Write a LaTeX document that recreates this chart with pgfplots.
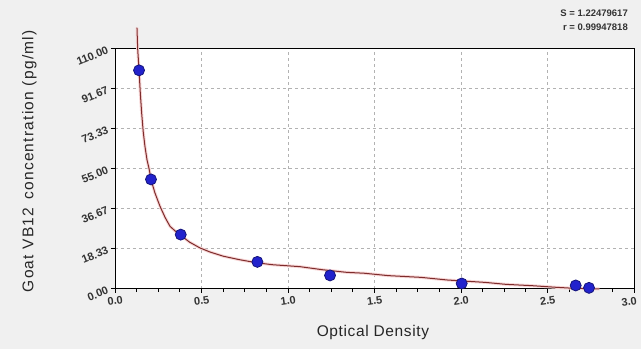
\documentclass[border=0pt]{standalone}
\usepackage{fontspec}
\setmainfont{Liberation Sans}
\usepackage{pgfplots}
\pgfplotsset{compat=1.18}
\definecolor{bgc}{HTML}{F0F0F0}
\definecolor{curvec}{HTML}{7E2C2C}
\definecolor{halo}{HTML}{F8D6D6}
\definecolor{ptc}{HTML}{2222CC}
\definecolor{ptedge}{HTML}{14147A}
\pgfplotstableread{
x y
0.127 119.6
0.131 110
0.139 100
0.146 90
0.154 80.5
0.163 72
0.173 65.2
0.185 59
0.198 54.5
0.208 50
0.23 44
0.26 37.7
0.29 32.5
0.318 28.5
0.35 26.2
0.38 24.4
0.43 21.3
0.491 18.6
0.55 16.7
0.626 14.8
0.72 13.2
0.819 11.8
0.91 10.9
1.0 10.4
1.07 10.0
1.2 8.6
1.34 7.4
1.44 7.0
1.58 5.9
1.77 5.1
1.92 3.9
2.14 2.8
2.26 1.9
2.41 1.3
2.55 0.55
2.65 0.1
2.8 -0.2
}\curvetable
\pgfplotstableread{
x y
0.139 100
0.208 50
0.38 24.7
0.823 12.2
1.243 6.0
2.004 2.3
2.663 1.4
2.74 0.3
}\pointtable
\begin{document}
\begin{tikzpicture}
\fill[bgc] (0pt,0pt) rectangle (641pt,349pt);
\useasboundingbox (0pt,0pt) rectangle (641pt,349pt);
\begin{axis}[
  at={(115pt,60.5pt)}, anchor=south west,
  scale only axis, width=519pt, height=240pt,
  xmin=0, xmax=3, ymin=0, ymax=110,
  clip=false,
  axis background/.style={fill=white},
  axis line style={line width=0.9pt, black},
  xtick={0,0.5,1,1.5,2,2.5,3},
  xticklabels={0.0,0.5,1.0,1.5,2.0,2.5,{\hspace*{-10pt}3.0}},
  ytick={0,18.3333,36.6667,55,73.3333,91.6667,110},
  yticklabels={0.00,18.33,36.67,55.00,73.33,91.67,110.00},
  minor x tick num=3, minor y tick num=4,
  tick align=outside, xtick pos=left, ytick pos=left,
  major tick length=4pt, minor tick length=3.5pt,
  every tick/.style={black, line width=0.8pt},
  grid=major,
  major grid style={gray!60, line width=0.7pt, dash pattern=on 3pt off 3pt},
  xticklabel style={font=\fontsize{11}{12}\selectfont\bfseries, text=black!80, rotate=8, yshift=-1pt},
  yticklabel style={font=\fontsize{11}{12}\selectfont\bfseries, text=black!80, rotate=22, anchor=east},
  xlabel={Optical Density},
  ylabel={Goat VB12\, concentration (pg/ml)},
  every axis x label/.style={at={(axis description cs:0.497,-0.185)}, anchor=center, font=\fontsize{15.5}{17}\selectfont\addfontfeatures{LetterSpace=4}, text=black!85},
  every axis y label/.style={at={(axis description cs:-0.165,0.53)}, rotate=90, anchor=center, font=\fontsize{15.5}{17}\selectfont\addfontfeatures{LetterSpace=8}, text=black!85},
]
\addplot[halo, line width=3pt] table[x=x,y=y] {\curvetable};
\addplot[curvec, line width=1pt] table[x=x,y=y] {\curvetable};
\addplot[only marks, mark=*, mark size=5.5pt, mark options={fill=ptc, draw=ptedge, line width=0.8pt}] table[x=x,y=y] {\pointtable};
\end{axis}
\node[anchor=east, font=\fontsize{9.5}{10}\selectfont\bfseries, text=black!80, inner sep=0pt] at (628pt,336pt) {S = 1.22479617};
\node[anchor=east, font=\fontsize{9.5}{10}\selectfont\bfseries, text=black!80, inner sep=0pt] at (628pt,322pt) {r = 0.99947818};
\end{tikzpicture}
\end{document}
